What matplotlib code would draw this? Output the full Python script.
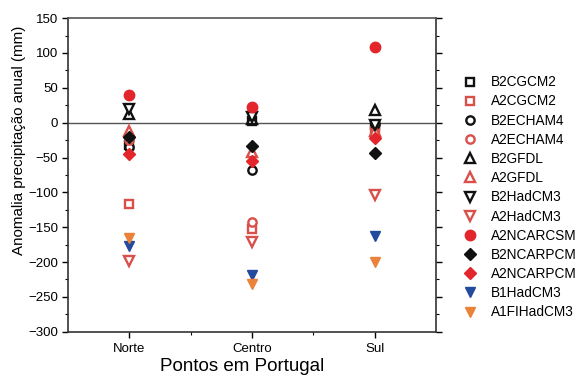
import matplotlib
matplotlib.use("Agg")
import matplotlib.pyplot as plt
from matplotlib.ticker import MultipleLocator, FixedLocator

plt.rcParams['font.family'] = ['Liberation Sans', 'DejaVu Sans']

points = ["Norte", "Centro", "Sul"]
series_names = ["B2CGCM2", "A2CGCM2", "B2ECHAM4", "A2ECHAM4", "B2GFDL", "A2GFDL",
                "B2HadCM3", "A2HadCM3", "A2NCARCSM", "B2NCARPCM", "A2NCARPCM",
                "B1HadCM3", "A1FIHadCM3"]

B2CGCM2 = [-32, 3, -3]
A2CGCM2 = [-116, -152, -12]
B2ECHAM4 = [-35, -68, -2]
A2ECHAM4 = [-25, -143, -20]
B2GFDL = [12, 5, 18]
A2GFDL = [-12, -42, -12]
B2HadCM3 = [20, 8, -4]
A2HadCM3 = [-198, -171, -104]
A2NCARCSM = [40, 23, 108]
B2NCARPCM = [-20, -34, -43]
A2NCARPCM = [-45, -55, -22]
B1HadCM3 = [-177, -219, -162]
A1FIHadCM3 = [-165, -232, -200]

values = [B2CGCM2, A2CGCM2, B2ECHAM4, A2ECHAM4, B2GFDL, A2GFDL, B2HadCM3,
          A2HadCM3, A2NCARCSM, B2NCARPCM, A2NCARPCM, B1HadCM3, A1FIHadCM3]

black = "#111111"
red_open = "#d9504a"
red = "#e3262b"
blue = "#244a9e"
orange = "#ea823a"

# (marker, color, filled, size)
styles = [
    ("s", black, False, 5.5),
    ("s", red_open, False, 5.5),
    ("o", black, False, 6),
    ("o", red_open, False, 6),
    ("^", black, False, 7),
    ("^", red_open, False, 7),
    ("v", black, False, 7),
    ("v", red_open, False, 7),
    ("o", red, True, 7.5),
    ("D", black, True, 6),
    ("D", red, True, 6),
    ("v", blue, True, 7.5),
    ("v", orange, True, 7.5),
]

fig = plt.figure(figsize=(5.87, 3.77), dpi=100)
ax = fig.add_axes([0.1158, 0.12, 0.627, 0.832])

xs = [1, 2, 3]
ax.axhline(0, color="#555555", lw=1.0, zorder=1)
for name, vals, (m, c, filled, ms) in zip(series_names, values, styles):
    ax.plot(xs, vals, linestyle="none", marker=m, markersize=ms,
            markerfacecolor=c if filled else "white",
            markeredgecolor=c, markeredgewidth=1.0 if filled else 1.7,
            label=name, zorder=3)

ax.set_xlim(0.5, 3.5)
ax.set_ylim(-300, 150)
ax.set_xticks(xs)
ax.set_xticklabels(points, fontsize=9.5)
ax.xaxis.set_minor_locator(FixedLocator([1.5, 2.5]))
ax.yaxis.set_major_locator(MultipleLocator(50))
ax.yaxis.set_minor_locator(MultipleLocator(25))
ax.tick_params(axis="y", which="major", direction="out", length=4, width=1,
               labelsize=9.5, left=True, right=True, pad=3)
ax.tick_params(axis="y", which="minor", direction="out", length=2.5, width=0.8,
               left=True, right=True)
ax.tick_params(axis="x", which="major", direction="out", length=4, width=1, pad=4)
ax.tick_params(axis="x", which="minor", direction="out", length=2.5, width=0.8)

for s in ax.spines.values():
    s.set_color("#333333")
    s.set_linewidth(1.2)
ax.spines["top"].set_color("#555555")

ax.set_xlabel("Pontos em Portugal", fontsize=13.5, labelpad=0)
ax.xaxis.set_label_coords(0.473, -0.085)
ax.set_ylabel("Anomalia precipitação anual (mm)", fontsize=10.9, labelpad=2)
ax.yaxis.set_label_coords(-0.115, 0.61)

leg = ax.legend(loc="upper left", bbox_to_anchor=(1.06, 0.835), frameon=False,
                fontsize=9.8, handlelength=1.0, handletextpad=1.0,
                labelspacing=0.38, borderaxespad=0)

fig.savefig("out.png", dpi=100)
